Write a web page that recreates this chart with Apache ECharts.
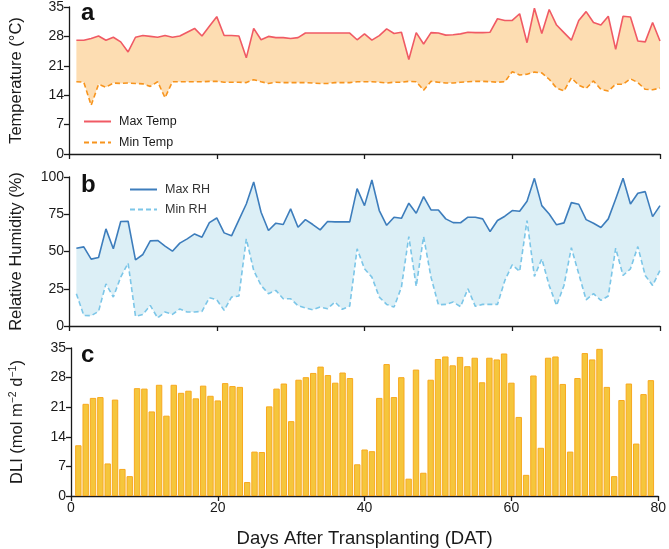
<!DOCTYPE html>
<html>
<head>
<meta charset="utf-8">
<script src="https://cdn.jsdelivr.net/npm/echarts@6/dist/echarts.min.js"></script>
<style>
  html, body { margin: 0; padding: 0; background: #fff; }
  #main { width: 669px; height: 549px; }
</style>
</head>
<body>
<div id="main"></div>
<script>
// daily values, day 1 .. 80
var maxTemp = [
  27.1, 27.1, 27.5, 28.1, 27.1, 27.8, 26.7, 24.3, 27.8, 28.2,
  28.0, 27.8, 28.2, 27.8, 28.1, 29.0, 29.9, 28.1, 30.4, 32.7,
  28.2, 28.2, 28.1, 22.9, 29.9, 27.2, 28.0, 27.7, 27.7, 27.5,
  27.7, 28.8, 28.8, 28.8, 28.8, 28.8, 28.8, 28.8, 27.2, 28.6,
  27.1, 28.2, 29.8, 28.7, 29.0, 22.5, 28.9, 26.2, 28.9, 28.8,
  28.3, 28.4, 28.6, 29.0, 28.9, 28.9, 29.0, 32.2, 31.8, 31.8,
  33.4, 26.5, 34.7, 28.7, 34.4, 30.7, 28.9, 27.1, 31.8, 33.9,
  31.3, 30.7, 32.8, 24.9, 32.8, 32.6, 26.9, 26.7, 31.3, 26.9
];
var minTemp = [
  17.2, 17.1, 11.6, 16.6, 15.9, 16.9, 16.8, 16.9, 16.8, 16.7,
  16.1, 17.2, 13.4, 17.2, 17.2, 17.2, 17.2, 17.2, 17.3, 17.3,
  17.1, 17.1, 17.1, 17.0, 17.7, 17.2, 16.8, 17.1, 17.0, 17.0,
  17.0, 17.0, 16.9, 16.8, 16.8, 17.0, 17.0, 17.0, 17.2, 17.2,
  17.2, 17.1, 16.9, 17.1, 17.1, 17.3, 17.2, 15.2, 17.3, 17.1,
  16.9, 16.9, 17.1, 17.2, 17.3, 17.3, 17.2, 17.1, 17.2, 19.6,
  18.8, 19.0, 19.5, 19.3, 17.8, 15.7, 15.0, 18.1, 16.4, 15.6,
  17.4, 15.4, 15.0, 16.6, 16.6, 17.9, 17.0, 15.4, 15.3, 15.7
];
var maxRH = [
  52.2, 53.1, 44.9, 46.0, 65.2, 51.8, 70.1, 70.3, 44.4, 48.0,
  57.1, 57.4, 53.6, 50.2, 55.6, 58.5, 61.8, 59.6, 69.4, 72.5,
  62.5, 60.5, 71.2, 81.9, 96.7, 76.3, 64.1, 69.0, 68.1, 78.6,
  66.3, 71.4, 68.1, 64.5, 70.1, 69.9, 69.9, 69.9, 92.2, 80.8,
  98.0, 77.5, 67.6, 73.0, 72.3, 82.4, 75.7, 86.8, 77.9, 77.9,
  71.9, 69.4, 69.3, 73.0, 73.0, 71.9, 63.4, 70.8, 73.7, 77.5,
  77.0, 83.7, 99.1, 80.8, 75.2, 67.9, 69.2, 82.8, 81.7, 71.4,
  69.0, 66.1, 71.9, 85.3, 99.1, 81.9, 89.1, 90.2, 73.4, 80.8
];
var minRH = [
  21.7, 7.1, 6.9, 9.8, 28.3, 19.4, 32.8, 42.2, 6.5, 7.8,
  13.8, 5.4, 9.4, 7.8, 11.4, 9.4, 9.4, 9.8, 19.0, 17.6,
  10.5, 19.4, 20.1, 58.5, 37.3, 27.2, 21.7, 23.9, 18.3, 18.3,
  13.6, 12.1, 10.9, 12.7, 11.6, 16.1, 11.2, 13.4, 51.8, 38.4,
  32.8, 19.4, 14.5, 12.7, 26.1, 60.0, 26.6, 60.0, 32.8, 14.3,
  14.5, 16.1, 13.0, 25.0, 13.2, 14.5, 14.5, 14.5, 30.6, 41.1,
  36.6, 70.8, 33.3, 45.1, 27.2, 13.8, 27.2, 52.5, 35.0, 17.6,
  21.7, 17.2, 20.1, 52.2, 33.9, 38.4, 53.3, 33.9, 27.2, 37.3
];
// daily light integral, day 1 .. 79
var dli = [
  12.0, 21.8, 23.2, 23.4, 7.7, 22.8, 6.4, 4.7, 25.5, 25.4,
  20.0, 26.3, 19.0, 26.3, 24.4, 24.9, 23.1, 26.1, 23.7, 22.6,
  26.7, 26.0, 25.8, 3.3, 10.5, 10.4, 21.2, 25.4, 26.6, 17.7,
  27.5, 28.1, 29.1, 30.6, 28.6, 26.8, 29.2, 27.9, 7.5, 11.0,
  10.6, 23.2, 31.2, 23.4, 28.1, 4.1, 29.9, 5.5, 27.5, 32.4,
  33.0, 30.9, 32.9, 30.7, 32.7, 26.9, 32.7, 32.3, 33.7, 26.8,
  18.7, 5.0, 28.5, 11.4, 32.7, 33.0, 26.5, 10.5, 27.9, 33.8,
  32.3, 34.8, 25.8, 4.7, 22.7, 26.6, 12.4, 24.1, 27.4
];
var xTicks = [0, 20, 40, 60, 80];
var panelLetters = ['a', 'b', 'c'];

var FONT = 'Liberation Sans, Arial, sans-serif';
var INK = '#1a1a1a';

function pairs(arr) {
  return arr.map(function (v, i) { return [i + 1, v]; });
}
function bandRows(hi, lo) {
  return hi.map(function (v, i) { return [i + 1, lo[i], v]; });
}

// filled polygon between the low and high curves, drawn once through api.coord
function bandSeries(gridIdx, hi, lo, color) {
  return {
    type: 'custom', xAxisIndex: gridIdx, yAxisIndex: gridIdx, silent: true, z: 1,
    data: bandRows(hi, lo),
    encode: { x: 0, y: [1, 2] },
    renderItem: function (params, api) {
      if (params.dataIndex !== 0) return null;
      var top = [], bottom = [];
      for (var i = 0; i < hi.length; i++) {
        top.push(api.coord([i + 1, hi[i]]));
        bottom.unshift(api.coord([i + 1, lo[i]]));
      }
      return {
        type: 'polygon',
        shape: { points: top.concat(bottom) },
        style: { fill: color }
      };
    }
  };
}

var myChart = echarts.init(document.getElementById('main'), null, { renderer: 'canvas' });

var grids = [
  { left: 69, right: 9, top: 7, height: 147 },
  { left: 69, right: 9, top: 177, height: 149 },
  { left: 69, right: 9, top: 348, height: 148 }
];

function xAxis(idx, showLabels) {
  return {
    type: 'value', gridIndex: idx, min: xTicks[0], max: xTicks[xTicks.length - 1], interval: 20,
    axisLine: { lineStyle: { color: INK, width: 1.3 } },
    axisTick: { show: true, length: 5, lineStyle: { color: INK, width: 1.3 } },
    axisLabel: { show: showLabels, color: INK, fontSize: 14, fontFamily: FONT, margin: 5 },
    splitLine: { show: false },
    name: showLabels ? 'Days After Transplanting (DAT)' : '',
    nameLocation: 'middle', nameGap: 33,
    nameTextStyle: { color: INK, fontSize: 18.5, fontFamily: FONT }
  };
}
function yAxis(idx, max, step, name) {
  return {
    type: 'value', gridIndex: idx, min: 0, max: max, interval: step,
    axisLine: { show: true, lineStyle: { color: INK, width: 1.3 } },
    axisTick: { show: true, length: 5, lineStyle: { color: INK, width: 1.3 } },
    axisLabel: { color: INK, fontSize: 14, fontFamily: FONT, margin: 5 },
    splitLine: { show: false },
    name: name, nameLocation: 'middle', nameGap: 44,
    nameTextStyle: {
      color: INK, fontSize: 16.5, fontFamily: FONT,
      rich: { sup: { fontSize: 10.5, verticalAlign: 'top', color: INK, fontFamily: FONT, padding: [0, 0, 8, 0] } }
    }
  };
}

var option = {
  animation: false,
  textStyle: { fontFamily: FONT },
  title: panelLetters.map(function (t, i) {
    return {
      text: t, left: 81, top: [1, 173, 343][i], padding: 0,
      textStyle: { fontSize: 24, fontWeight: 'bold', color: '#111', fontFamily: FONT }
    };
  }),
  legend: [
    {
      data: ['Max Temp', 'Min Temp'], orient: 'vertical', left: 78, top: 110,
      itemWidth: 27, itemHeight: 10, itemGap: 8, itemStyle: { opacity: 0 },
      textStyle: { color: INK, fontSize: 12.5, fontFamily: FONT, padding: [0, 0, 0, 3] }
    },
    {
      data: ['Max RH', 'Min RH'], orient: 'vertical', left: 124, top: 178,
      itemWidth: 27, itemHeight: 10, itemGap: 7, itemStyle: { opacity: 0 },
      textStyle: { color: '#333', fontSize: 12.5, fontFamily: FONT, padding: [0, 0, 0, 3] }
    }
  ],
  grid: grids,
  xAxis: [xAxis(0, false), xAxis(1, false), xAxis(2, true)],
  yAxis: [
    yAxis(0, 35, 7, 'Temperature (°C)'),
    yAxis(1, 100, 25, 'Relative Humidity (%)'),
    yAxis(2, 35, 7, 'DLI (mol m{sup|−2} d{sup|−1})')
  ],
  series: [
    bandSeries(0, maxTemp, minTemp, '#FDDDB2'),
    { name: 'Max Temp', type: 'line', xAxisIndex: 0, yAxisIndex: 0, symbol: 'none', z: 5,
      lineStyle: { color: '#F05A64', width: 1.6 }, itemStyle: { color: '#F05A64' }, data: pairs(maxTemp) },
    { name: 'Min Temp', type: 'line', xAxisIndex: 0, yAxisIndex: 0, symbol: 'none', z: 5,
      lineStyle: { color: '#F7941D', width: 1.6, type: [5, 3] }, itemStyle: { color: '#F7941D' }, data: pairs(minTemp) },

    bandSeries(1, maxRH, minRH, '#DCEFF6'),
    { name: 'Max RH', type: 'line', xAxisIndex: 1, yAxisIndex: 1, symbol: 'none', z: 5,
      lineStyle: { color: '#3D7DBC', width: 1.6 }, itemStyle: { color: '#3D7DBC' }, data: pairs(maxRH) },
    { name: 'Min RH', type: 'line', xAxisIndex: 1, yAxisIndex: 1, symbol: 'none', z: 5,
      lineStyle: { color: '#7CC6E8', width: 1.6, type: [5, 3] }, itemStyle: { color: '#7CC6E8' }, data: pairs(minRH) },

    { name: 'DLI', type: 'bar', xAxisIndex: 2, yAxisIndex: 2, barWidth: 6.4,
      itemStyle: { color: '#F5C63C', borderColor: '#F8A91F', borderWidth: 1 },
      data: pairs(dli) }
  ]
};

myChart.setOption(option);
</script>
</body>
</html>
